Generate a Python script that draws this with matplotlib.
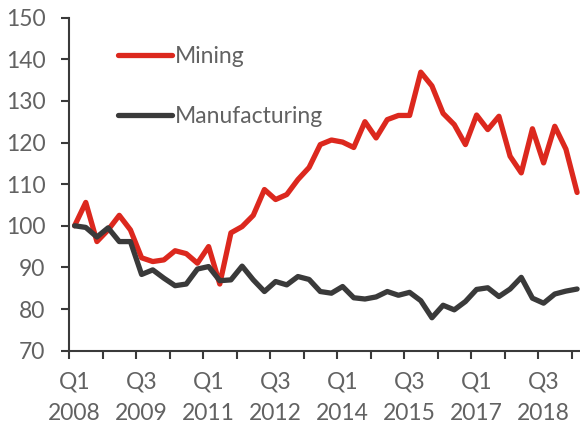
import matplotlib.pyplot as plt
import numpy as np

# Quarterly output index, Q1 2008 = 100, Q1 2008 .. Q2 2019
quarters = ["Q1\n2008", "Q3\n2009", "Q1\n2011", "Q3\n2012",
            "Q1\n2014", "Q3\n2015", "Q1\n2017", "Q3\n2018"]

mining = [100.0, 105.6, 96.2, 99.0, 102.5, 99.0, 92.3, 91.4, 91.8, 94.0,
          93.3, 91.0, 95.0, 86.0, 98.3, 99.8, 102.5, 108.7, 106.3, 107.5,
          111.1, 114.0, 119.5, 120.6, 120.1, 118.8, 125.0, 121.1, 125.5, 126.5,
          126.5, 136.9, 133.6, 127.0, 124.3, 119.5, 126.6, 123.1, 126.3, 116.7,
          112.7, 123.3, 115.1, 123.9, 118.4, 108.0]

manufacturing = [100.0, 99.6, 97.3, 99.5, 96.2, 96.2, 88.3, 89.4, 87.4, 85.6,
                 86.0, 89.6, 90.2, 86.8, 87.0, 90.3, 87.0, 84.2, 86.6, 85.8,
                 87.8, 87.1, 84.2, 83.8, 85.4, 82.7, 82.4, 82.9, 84.2, 83.3,
                 84.0, 82.0, 77.9, 80.9, 79.8, 81.8, 84.7, 85.1, 83.0, 84.8,
                 87.6, 82.6, 81.4, 83.6, 84.3, 84.8]

RED = "#dc281e"
DARK = "#3a3a3a"
GREY = "#626262"

plt.rcParams["font.family"] = ["Lato", "DejaVu Sans"]

fig = plt.figure(figsize=(5.8, 4.25), dpi=100)
ax = fig.add_axes([0.119, 0.175, 0.881, 0.7835])

x = np.arange(len(mining))
ax.plot(x, mining, color=RED, lw=3.8, solid_joinstyle="round",
        solid_capstyle="round", label="Mining")
ax.plot(x, manufacturing, color=DARK, lw=3.8, solid_joinstyle="round",
        solid_capstyle="round", label="Manufacturing")

ax.set_ylim(70, 150)
ax.set_xlim(-0.5, 45.26)
ax.set_yticks(range(70, 151, 10))

# labels sit on the quarter, tick marks sit on the boundaries
ax.set_xticks(np.arange(0, 43, 6))
ax.set_xticklabels(quarters, linespacing=1.6)
ax.set_xticks(np.arange(-0.5, 45, 3), minor=True)
ax.tick_params(axis="x", which="major", length=0, pad=15)
ax.tick_params(axis="x", which="minor", length=6, width=1.5, color=DARK)
ax.tick_params(axis="y", length=6, width=1.5, color=DARK, pad=11)
ax.tick_params(labelsize=16.5, labelcolor=GREY)

for side in ("top", "right"):
    ax.spines[side].set_visible(False)
for side in ("left", "bottom"):
    ax.spines[side].set_color(DARK)
    ax.spines[side].set_linewidth(1.5)

leg = ax.legend(loc="upper left", bbox_to_anchor=(0.096, 0.915), frameon=False,
                borderpad=0, borderaxespad=0, handlelength=2.35,
                handletextpad=0.15, labelspacing=1.72,
                prop={"size": 16.5})
for t in leg.get_texts():
    t.set_color(GREY)

fig.savefig("out.png", dpi=100)
